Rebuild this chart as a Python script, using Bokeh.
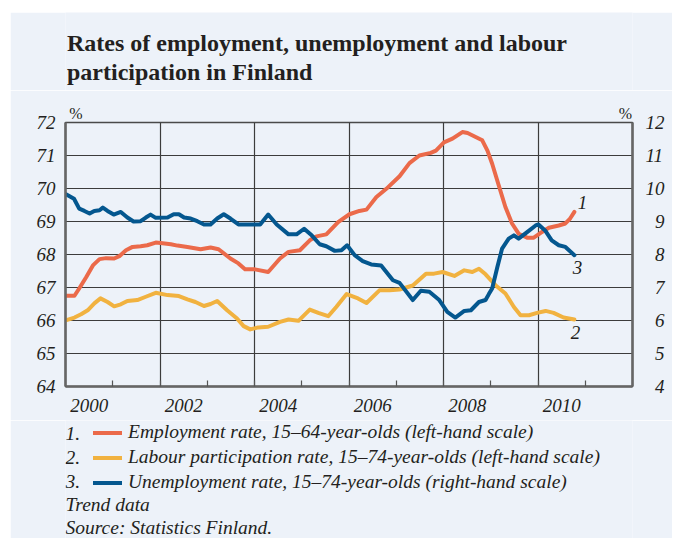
from bokeh.plotting import figure
from bokeh.layouts import column
from bokeh.models import Range1d, LinearAxis, FixedTicker, Label, Legend, LegendItem
from bokeh.embed import file_html
from bokeh.resources import INLINE

# ---------------- data ----------------
emp_year = [2000.0, 2000.19, 2000.29, 2000.44, 2000.58, 2000.72, 2000.86, 2001.03, 2001.14, 2001.28,
            2001.42, 2001.59, 2001.73, 2001.91, 2002.01, 2002.23, 2002.37, 2002.58, 2002.86, 2003.07,
            2003.24, 2003.49, 2003.66, 2003.80, 2004.01, 2004.29, 2004.54, 2004.72, 2004.96, 2005.17,
            2005.31, 2005.52, 2005.77, 2006.01, 2006.22, 2006.37, 2006.58, 2006.79, 2007.07, 2007.28,
            2007.49, 2007.73, 2007.84, 2008.01, 2008.19, 2008.40, 2008.51, 2008.68, 2008.82, 2008.93,
            2009.03, 2009.17, 2009.31, 2009.45, 2009.59, 2009.77, 2009.91, 2010.05, 2010.23, 2010.44,
            2010.58, 2010.68, 2010.77]
emp_rate = [66.75, 66.75, 66.97, 67.32, 67.67, 67.86, 67.89, 67.88, 67.95, 68.13,
            68.23, 68.25, 68.28, 68.36, 68.35, 68.31, 68.27, 68.23, 68.16, 68.21,
            68.16, 67.88, 67.73, 67.55, 67.55, 67.47, 67.88, 68.08, 68.13, 68.43,
            68.55, 68.61, 68.98, 69.22, 69.32, 69.36, 69.74, 69.99, 70.37, 70.77,
            71.00, 71.08, 71.15, 71.40, 71.51, 71.71, 71.68, 71.56, 71.46, 71.15,
            70.75, 70.09, 69.44, 68.94, 68.63, 68.51, 68.51, 68.65, 68.81, 68.88,
            68.94, 69.09, 69.29]

lab_year = [2000.02, 2000.19, 2000.33, 2000.47, 2000.61, 2000.74, 2000.89, 2001.03, 2001.17, 2001.31,
            2001.52, 2001.70, 2001.91, 2002.16, 2002.40, 2002.58, 2002.75, 2002.93, 2003.07, 2003.21,
            2003.42, 2003.63, 2003.77, 2003.91, 2004.08, 2004.29, 2004.54, 2004.72, 2004.93, 2005.17,
            2005.35, 2005.56, 2005.73, 2005.95, 2006.19, 2006.37, 2006.65, 2006.86, 2007.07, 2007.35,
            2007.63, 2007.80, 2007.98, 2008.23, 2008.44, 2008.61, 2008.75, 2008.89, 2009.10, 2009.31,
            2009.49, 2009.63, 2009.81, 2009.98, 2010.16, 2010.33, 2010.54, 2010.77]
lab_rate = [66.01, 66.09, 66.19, 66.31, 66.52, 66.67, 66.56, 66.43, 66.49, 66.59,
            66.62, 66.72, 66.84, 66.77, 66.74, 66.64, 66.56, 66.44, 66.50, 66.59,
            66.31, 66.06, 65.83, 65.73, 65.79, 65.81, 65.96, 66.03, 65.99, 66.33,
            66.23, 66.13, 66.41, 66.80, 66.67, 66.53, 66.92, 66.92, 66.94, 67.06,
            67.42, 67.42, 67.47, 67.35, 67.52, 67.47, 67.57, 67.40, 67.07, 66.82,
            66.41, 66.16, 66.16, 66.23, 66.29, 66.23, 66.09, 66.03]

unemp_year = [2000.02, 2000.18, 2000.29, 2000.40, 2000.51, 2000.61, 2000.72, 2000.79, 2000.89, 2001.02,
              2001.17, 2001.31, 2001.44, 2001.59, 2001.70, 2001.80, 2001.91, 2002.16, 2002.29, 2002.40,
              2002.51, 2002.65, 2002.79, 2002.93, 2003.07, 2003.21, 2003.35, 2003.49, 2003.66, 2003.84,
              2004.12, 2004.29, 2004.47, 2004.72, 2004.89, 2005.05, 2005.21, 2005.38, 2005.52, 2005.70,
              2005.84, 2005.96, 2006.12, 2006.29, 2006.47, 2006.68, 2006.93, 2007.07, 2007.35, 2007.52,
              2007.70, 2007.91, 2008.08, 2008.25, 2008.44, 2008.58, 2008.75, 2008.89, 2008.96, 2009.03,
              2009.14, 2009.24, 2009.38, 2009.49, 2009.59, 2009.77, 2009.95, 2010.01, 2010.15, 2010.29,
              2010.44, 2010.58, 2010.77]
unemp_rate = [9.82, 9.69, 9.39, 9.32, 9.24, 9.32, 9.34, 9.42, 9.32, 9.21,
              9.29, 9.12, 9.00, 9.01, 9.12, 9.21, 9.11, 9.12, 9.22, 9.22,
              9.12, 9.09, 9.01, 8.91, 8.91, 9.09, 9.22, 9.09, 8.91, 8.91,
              8.91, 9.21, 8.91, 8.61, 8.61, 8.78, 8.58, 8.31, 8.25, 8.11,
              8.13, 8.28, 7.98, 7.80, 7.70, 7.67, 7.22, 7.14, 6.62, 6.90,
              6.87, 6.62, 6.26, 6.09, 6.29, 6.31, 6.56, 6.62, 6.80, 6.97,
              7.62, 8.18, 8.48, 8.58, 8.48, 8.68, 8.88, 8.91, 8.73, 8.43,
              8.28, 8.23, 7.98]

left_ticks = [64, 65, 66, 67, 68, 69, 70, 71, 72]
right_ticks = [4, 5, 6, 7, 8, 9, 10, 11, 12]
year_labels = ["2000", "2002", "2004", "2006", "2008", "2010"]
year_bounds = [2001, 2002, 2003, 2004, 2005, 2006, 2007, 2008, 2009, 2010, 2011]
grid_years = [2002, 2004, 2006, 2008, 2010]
unit_label = "%"

title_lines = ["Rates of employment, unemployment and labour", "participation in Finland"]
legend_labels = ["Employment rate, 15\u201364-year-olds (left-hand scale)",
                 "Labour participation rate, 15\u201374-year-olds (left-hand scale)",
                 "Unemployment rate, 15\u201374-year-olds (right-hand scale)"]
legend_nums = ["1.", "2.", "3."]
notes = ["Trend data", "Source: Statistics Finland."]

# ---------------- style ----------------
BG = "#EDF2F9"
C_EMP = "#EB6A4A"
C_LAB = "#F1B240"
C_UNE = "#04578F"
TXT = "#231F20"
FONT = "Liberation Serif"

OX, OY = 10, 12          # panel origin on the page
W = 662                  # panel width
# page-pixel layout
FL, FR, FT, FB = 65, 632, 122, 386     # plot frame
MAIN_TOP, MAIN_BOT = 90, 420           # main figure vertical extent
BOT_END = 538
BL, BR = FL - OX, OX + W - FR          # left / right borders shared by all figures


def dx(px):
    return 2000 + (px - FL) * 12 / (FR - FL)


def dy(py):
    return 64 + (FB - py) * 8 / (FB - FT)


def blank_fig(top, bottom):
    # frame spans page x FL..FR; data coords = page pixels (y measured from this block's top)
    h = bottom - top
    f = figure(width=W, height=h, output_backend="svg", toolbar_location=None,
               x_range=Range1d(FL, FR), y_range=Range1d(h, 0),
               min_border_left=BL, min_border_right=BR, min_border_top=0, min_border_bottom=0,
               x_axis_type=None, y_axis_type=None,
               background_fill_color=BG, border_fill_color=BG)
    f.outline_line_color = None
    f.grid.visible = False
    return f


def add_text(f, top, text, px, py, size, style="italic", align="left"):
    f.add_layout(Label(x=px, y=py - top, text=text, text_font=FONT, text_font_style=style,
                       text_font_size=size, text_color=TXT, text_align=align,
                       text_baseline="middle"))


# ---------------- title block ----------------
tf = blank_fig(OY, MAIN_TOP)
add_text(tf, OY, title_lines[0], 66.5, 42, "24px", style="bold")
add_text(tf, OY, title_lines[1], 66.5, 71, "24px", style="bold")

# ---------------- main chart ----------------
p = figure(width=W, height=MAIN_BOT - MAIN_TOP, output_backend="svg", toolbar_location=None,
           x_range=Range1d(2000, 2012), y_range=Range1d(64, 72),
           min_border_left=BL, min_border_right=BR,
           min_border_top=FT - MAIN_TOP, min_border_bottom=MAIN_BOT - FB,
           background_fill_color=BG, border_fill_color=BG)
p.extra_y_ranges = {"right": Range1d(4, 12)}
p.outline_line_color = "#4a4a4a"
p.outline_line_width = 1.5

p.xgrid.ticker = FixedTicker(ticks=grid_years)
p.ygrid.ticker = FixedTicker(ticks=left_ticks)
for g in (p.xgrid, p.ygrid):
    g.grid_line_color = "#3c3c3c"
    g.grid_line_width = 1.2

xa = p.xaxis[0]
label_pos = [int(s) + 0.5 for s in year_labels]
xa.ticker = FixedTicker(ticks=label_pos, minor_ticks=year_bounds)
xa.major_label_overrides = {pos: s for pos, s in zip(label_pos, year_labels)}
xa.major_tick_in = 0
xa.major_tick_out = 0
xa.minor_tick_in = 6
xa.minor_tick_out = 0
xa.minor_tick_line_color = "#555555"
xa.minor_tick_line_width = 1.2
xa.axis_line_color = "#666666"
xa.axis_line_width = 2.5
xa.major_label_standoff = 12

ya = p.yaxis[0]
ya.ticker = FixedTicker(ticks=left_ticks)
ya.major_tick_in = 0
ya.major_tick_out = 0
ya.minor_tick_line_color = None
ya.axis_line_color = "#666666"
ya.axis_line_width = 2.5
ya.major_label_standoff = 10

ra = LinearAxis(y_range_name="right", ticker=FixedTicker(ticks=right_ticks))
ra.major_label_overrides = {v: (str(v) if v >= 10 else "\u2007" + str(v)) for v in right_ticks}
ra.major_tick_in = 0
ra.major_tick_out = 0
ra.minor_tick_line_color = None
ra.axis_line_color = "#666666"
ra.axis_line_width = 2.5
ra.major_label_standoff = 13
p.add_layout(ra, "right")

# unit marks "%" above both value axes
pct_pos = [dx(75.5), dx(625.0)]
ua = LinearAxis(ticker=FixedTicker(ticks=pct_pos))
ua.major_label_overrides = {v: unit_label for v in pct_pos}
ua.axis_line_color = None
ua.major_tick_line_color = None
ua.minor_tick_line_color = None
ua.major_label_standoff = -5
ua.major_label_text_font = FONT
ua.major_label_text_font_size = "16px"
ua.major_label_text_color = TXT
p.add_layout(ua, "above")

for ax in (xa, ya, ra):
    ax.major_label_text_font = FONT
    ax.major_label_text_font_style = "italic"
    ax.major_label_text_font_size = "19px"
    ax.major_label_text_color = TXT

common = dict(line_width=4, line_join="round", line_cap="round")
r_lab = p.line(lab_year, lab_rate, line_color=C_LAB, **common)
r_emp = p.line(emp_year, emp_rate, line_color=C_EMP, **common)
r_une = p.line(unemp_year, unemp_rate, line_color=C_UNE, y_range_name="right", **common)


def plot_text(text, px, py):
    p.add_layout(Label(x=dx(px), y=dy(py), text=text, text_font=FONT, text_font_style="italic",
                       text_font_size="19px", text_color=TXT, text_align="center",
                       text_baseline="middle"))


plot_text("1", 582, 202)
plot_text("3", 577, 267)
plot_text("2", 575, 332)

# ---------------- legend / notes block ----------------
lf = blank_fig(MAIN_BOT, BOT_END)
nan = float("nan")
keys = [lf.line([nan, nan], [nan, nan], line_color=c, **common) for c in (C_EMP, C_LAB, C_UNE)]
legend = Legend(items=[LegendItem(label=t, renderers=[k]) for t, k in zip(legend_labels, keys)],
                location=(28, 45), orientation="vertical",
                background_fill_alpha=0, border_line_color=None,
                padding=0, margin=0, spacing=3,
                label_height=21, glyph_height=21, glyph_width=29, label_standoff=6,
                label_text_font=FONT, label_text_font_style="italic",
                label_text_font_size="19.5px", label_text_color=TXT)
lf.add_layout(legend)
for i, n in enumerate(legend_nums):
    add_text(lf, MAIN_BOT, n, 65, 432.5 + 24 * i, "19.5px")
add_text(lf, MAIN_BOT, notes[0], 65, 504, "19.5px")
add_text(lf, MAIN_BOT, notes[1], 65, 527, "19.5px")

layout = column(tf, p, lf, spacing=0, margin=(OY, 0, 0, OX))
open("out.html", "w").write(file_html(layout, INLINE))
